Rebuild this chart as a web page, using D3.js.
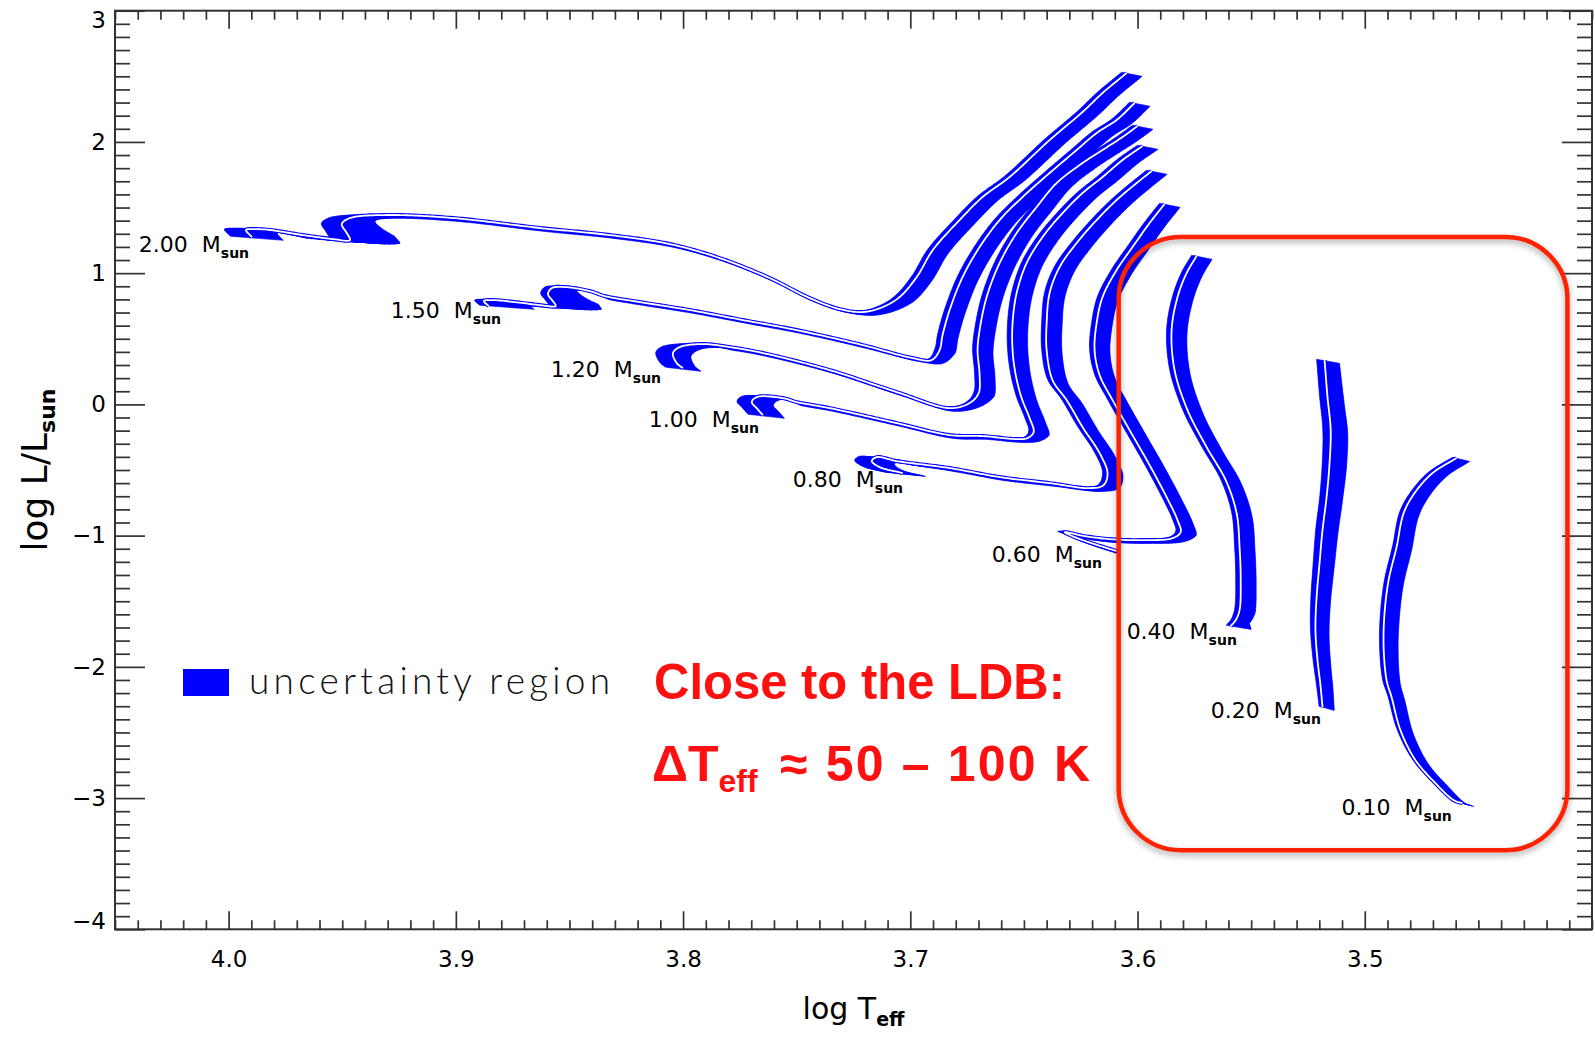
<!DOCTYPE html>
<html><head><meta charset="utf-8">
<script src="https://cdn.jsdelivr.net/npm/d3@7"></script>
<style>body{margin:0;background:#fff} svg{display:block}</style>
</head><body>
<svg id="c" width="1595" height="1038"></svg>
<script>
// ---------------- data ----------------
const xMajor = [4.0, 3.9, 3.8, 3.7, 3.6, 3.5];
const yMajor = [3, 2, 1, 0, -1, -2, -3, -4];
const xDomain = [4.05, 3.40];
const yDomain = [-4, 3];

// track points: [log Teff, log L, hot-side width (dex), cool-side width (dex)]
// points with only two numbers use the track's default widths
const track200 = [
 [3.6048,2.525],[3.6154,2.373],[3.6242,2.228],[3.6387,2.014],[3.6563,1.733],[3.6682,1.580],
 [3.6783,1.405],[3.6901,1.176],[3.6972,0.970],[3.7047,0.818],[3.7121,0.742,.0020,.0060],
 [3.7209,0.704,.0016,.0050],[3.7311,0.726,.0012,.0030],[3.7443,0.810,.0008,.0016],
 [3.7619,0.963,.0008,.0016],[3.7839,1.115,.0008,.0016],[3.8059,1.222,.0008,.0016],
 [3.8322,1.290,.0008,.0016],[3.8630,1.344,.0008,.0016],[3.9013,1.420,.0008,.0016],
 [3.9303,1.443,.0012,.0025],[3.9466,1.420,.0085,.0110],[3.9502,1.374,.0090,.0170],
 [3.9480,1.306,.0090,.0210],[3.9466,1.252,.0090,.0220],[3.9541,1.260,.0060,.0120],
 [3.9673,1.290,.0010,.0020],[3.9818,1.329,.0030,.0060],[3.9893,1.336,.0090,.0130],
 [3.9924,1.329,.0095,.0138],[3.9897,1.275,.0095,.0138]
];
const track150 = [
 [3.6013,2.2965],[3.6092,2.1669],[3.6180,2.0678],[3.6268,1.9383],[3.6387,1.7630],[3.6506,1.5800],
 [3.6607,1.4047],[3.6695,1.1989],[3.6770,0.9703],[3.6827,0.7188],[3.6858,0.5282],[3.6871,0.4139],
 [3.6906,0.3377,.0016,.0050],[3.6990,0.3529,.0010,.0025],[3.7210,0.4520,.0008,.0016],
 [3.7500,0.5663,.0008,.0016],[3.7737,0.6425,.0008,.0016],[3.7971,0.7188,.0008,.0016],
 [3.8191,0.7797,.0008,.0016],[3.8345,0.8255,.0008,.0016],[3.8411,0.8636,.0020,.0050],
 [3.8521,0.8941,.0032,.0080],[3.8578,0.8864,.0032,.0110],[3.8595,0.8407,.0032,.0160],
 [3.8573,0.7873,.0032,.0200],[3.8560,0.7492,.0032,.0200],[3.8631,0.7569,.0030,.0100],
 [3.8741,0.7797,.0010,.0020],[3.8842,0.7950,.0040,.0190],[3.8877,0.7873,.0040,.0200],
 [3.8855,0.7492,.0040,.0200]
];
const track120 = [
 [3.6000,2.1212],[3.6066,2.0373],[3.6154,1.9383],[3.6242,1.8392],[3.6356,1.6867],[3.6444,1.5038],
 [3.6532,1.3056],[3.6607,1.0770],[3.6664,0.8178],[3.6695,0.5663],[3.6704,0.4139],[3.6695,0.2233],
 [3.6699,0.0861],[3.6739,0.0099,.0016,.0050],[3.6827,-0.0282,.0010,.0025],
 [3.7060,0.0938,.0008,.0016],[3.7355,0.2614,.0008,.0016],[3.7649,0.3910,.0008,.0016],
 [3.7795,0.4367,.0008,.0016],[3.7913,0.4596,.0035,.0060],[3.8015,0.4367,.0075,.0080],
 [3.8045,0.3910,.0075,.0080],[3.8028,0.3148,.0075,.0080],[3.8001,0.2767,.0075,.0080]
];
const track100 = [
 [3.5978,1.9688],[3.6066,1.8620],[3.6154,1.7325],[3.6242,1.6105],[3.6330,1.4581],[3.6418,1.2752],
 [3.6488,1.0770],[3.6532,0.8483],[3.6550,0.6197],[3.6550,0.4139],[3.6536,0.2233],[3.6510,0.0480],
 [3.6475,-0.1044],[3.6457,-0.2111],[3.6484,-0.2569,.0016,.0050],[3.6532,-0.2645,.0010,.0025],
 [3.6682,-0.2416,.0008,.0016],[3.6827,-0.2340,.0008,.0016],[3.7060,-0.1425,.0008,.0016],
 [3.7355,-0.0282,.0008,.0016],[3.7500,0.0175,.0008,.0016],[3.7561,0.0480,.0040,.0060],
 [3.7676,0.0556,.0065,.0095],[3.7698,0.0175,.0065,.0095],[3.7676,-0.0282,.0065,.0095],
 [3.7649,-0.0816,.0065,.0095]
];
const track080 = [
 [3.5938,1.7782],[3.6004,1.6867],[3.6092,1.5572],[3.6180,1.4047],[3.6268,1.2294],[3.6343,1.0465],
 [3.6387,0.8483],[3.6400,0.6197],[3.6400,0.4139],[3.6374,0.1852],[3.6312,0.0328],[3.6242,-0.1730],
 [3.6167,-0.3712],[3.6132,-0.5236],[3.6149,-0.6151],[3.6211,-0.6380,.0016,.0050],
 [3.6387,-0.5999,.0010,.0025],[3.6607,-0.5541,.0008,.0016],[3.6827,-0.4855,.0008,.0016],
 [3.7060,-0.4322,.0040,.0060],[3.7148,-0.4017,.0075,.0100],[3.7170,-0.4322,.0075,.0100],
 [3.7135,-0.4779,.0075,.0100],[3.7033,-0.5236,.0075,.0100]
];
const track060 = [
 [3.5881,1.5267],[3.5947,1.3819],[3.6022,1.1989],[3.6092,1.0236],[3.6154,0.8178],[3.6180,0.6197],
 [3.6189,0.4139],[3.6167,0.2233],[3.6110,0.0328],[3.6035,-0.1959],[3.5947,-0.4627],[3.5872,-0.7066],
 [3.5824,-0.8819],[3.5810,-0.9733],[3.5846,-1.0191,.0018,.0055],[3.5991,-1.0343,.0010,.0030],
 [3.6123,-1.0267,.0008,.0016],[3.6233,-1.0038,.0008,.0016],[3.6321,-0.9733,.0030,.0040],
 [3.6277,-1.0114,.0012,.0020],[3.6189,-1.0648,.0008,.0016],[3.6092,-1.1182,.0008,.0016]
];
const track040 = [
 [3.5740,1.1303],[3.5784,1.0008],[3.5824,0.8178],[3.5850,0.5663],[3.5837,0.2614],[3.5780,-0.0435],
 [3.5696,-0.3255],[3.5612,-0.5770],[3.5564,-0.8285],[3.5551,-1.0877],[3.5546,-1.3392],
 [3.5551,-1.5678],[3.5568,-1.6441,.0020,.0060],[3.5590,-1.6898,.0020,.0090]
];
const track020 = [
 [3.5177,0.3377,.0035,.0066],[3.5164,0.0556,.0035,.0072],[3.5150,-0.1959,.0035,.0075],
 [3.5155,-0.4474,.0032,.0075],[3.5168,-0.7066,.0030,.0070],[3.5186,-0.9581,.0030,.0068],
 [3.5199,-1.2096,.0028,.0065],[3.5212,-1.4688,.0025,.0062],[3.5217,-1.7203,.0022,.0060],
 [3.5208,-1.9489,.0020,.0058],[3.5195,-2.1395,.0018,.0055],[3.5186,-2.3072,.0015,.0052]
];
const track010 = [
 [3.4596,-0.4093,.0018,.0058],[3.4702,-0.5236,.0018,.0062],[3.4781,-0.6761,.0018,.0064],
 [3.4829,-0.8285,.0018,.0066],[3.4860,-1.0877,.0018,.0066],[3.4895,-1.3392,.0018,.0066],
 [3.4913,-1.5907,.0018,.0066],[3.4917,-1.8499,.0018,.0064],[3.4904,-2.1014,.0018,.0060],
 [3.4882,-2.2310,.0016,.0058],[3.4843,-2.4825,.0015,.0056],[3.4777,-2.7111,.0013,.0055],
 [3.4689,-2.8864,.0012,.0055],[3.4609,-3.0160,.0010,.0052],[3.4570,-3.0389,.0010,.0050]
];
const trackDefaultWidth = [0.0022, 0.0068];
const trackVertical = [0.006, 0.025];   // hot side up, cool side down (dex in log L)

const massNames = ["2.00","1.50","1.20","1.00","0.80","0.60","0.40","0.20","0.10"];
const massLabelAt = [[4.0395,1.1608],[3.9286,0.6578],[3.8582,0.2081],[3.8151,-0.1730],
 [3.7517,-0.6303],[3.6642,-1.2020],[3.6048,-1.7889],[3.5678,-2.3910],[3.5102,-3.1303]];
const boxT = [3.6083, 3.4108];
const boxL = [1.2752, -3.3971];

// ---------------- drawing ----------------
const svg = d3.select("#c");
const x = d3.scaleLinear().domain(xDomain).range([115, 1592]);
const y = d3.scaleLinear().domain(yDomain).range([929.3, 10.7]);
const kx = Math.abs(x(1) - x(0)), ky = Math.abs(y(1) - y(0));
const axisCol = "#333";
const BLUE = "#0000ff";

const defs = svg.append("defs");
const f = defs.append("filter").attr("id","shadow").attr("x","-10%").attr("y","-10%").attr("width","120%").attr("height","120%");
f.append("feDropShadow").attr("dx",0).attr("dy",3).attr("stdDeviation",3).attr("flood-color","#000").attr("flood-opacity",0.35);

// smooth (centripetal Catmull-Rom) rendering of each track in pixel space
function smoothTrack(P){
  const n = P.length, out = [];
  const get = i => {
    if (i < 0) return [2*P[0][0]-P[1][0], 2*P[0][1]-P[1][1]];
    if (i >= n) return [2*P[n-1][0]-P[n-2][0], 2*P[n-1][1]-P[n-2][1]];
    return P[i];
  };
  const dist = (a,b) => Math.max(1e-4, Math.pow(Math.hypot(b[0]-a[0], b[1]-a[1]), 0.5));
  for (let i=0;i<n-1;i++){
    const p0=get(i-1), p1=get(i), p2=get(i+1), p3=get(i+2);
    const t0=0, t1=t0+dist(p0,p1), t2=t1+dist(p1,p2), t3=t2+dist(p2,p3);
    const segLen = Math.hypot(p2[0]-p1[0], p2[1]-p1[1]);
    const m = Math.max(2, Math.ceil(segLen/2.5));
    for (let k=0;k<m;k++){
      const u = k/m, t = t1 + (t2-t1)*u;
      const lerp=(a,b,ta,tb)=>[ (tb-t)/(tb-ta)*a[0]+(t-ta)/(tb-ta)*b[0], (tb-t)/(tb-ta)*a[1]+(t-ta)/(tb-ta)*b[1] ];
      const A1=lerp(p0,p1,t0,t1), A2=lerp(p1,p2,t1,t2), A3=lerp(p2,p3,t2,t3);
      const B1=lerp(A1,A2,t0,t2), B2=lerp(A2,A3,t1,t3);
      const C=lerp(B1,B2,t1,t2);
      out.push([C[0], C[1], P[i][2]*(1-u)+P[i+1][2]*u, P[i][3]*(1-u)+P[i+1][3]*u]);
    }
  }
  out.push(P[n-1].slice());
  return out;
}

const trackList = [track200, track150, track120, track100, track080, track060, track040, track020, track010];
const gT = svg.append("g");
const line = d3.line().x(d=>d[0]).y(d=>d[1]);
const vUp = trackVertical[0]*ky, vDn = trackVertical[1]*ky;
trackList.forEach(pts => {
  const P = pts.map(p => [x(p[0]), y(p[1]),
     (p.length>2?p[2]:trackDefaultWidth[0])*kx, (p.length>2?p[3]:trackDefaultWidth[1])*kx]);
  const S = smoothTrack(P);
  let d = "";
  for (let i=0;i<S.length-1;i++){
    const a=S[i], b=S[i+1];
    let q = [[a[0]-a[2], a[1]-vUp],[a[0]+a[3], a[1]+vDn],[b[0]+b[3], b[1]+vDn],[b[0]-b[2], b[1]-vUp]];
    let area = 0;
    for (let j=0;j<4;j++){ const c=q[j], e=q[(j+1)%4]; area += c[0]*e[1]-e[0]*c[1]; }
    if (area < 0) q = q.reverse();
    d += "M"+q.map(c=>c[0].toFixed(2)+","+c[1].toFixed(2)).join("L")+"Z";
  }
  const g = gT.append("g");
  g.append("path").attr("d",d).attr("fill",BLUE).attr("stroke",BLUE).attr("stroke-width",0.6)
    .attr("stroke-linejoin","round").attr("fill-rule","nonzero");
  g.append("path").attr("d",line(S)).attr("fill","none").attr("stroke",BLUE).attr("stroke-width",4);
  g.append("path").attr("d",line(S)).attr("fill","none").attr("stroke","#fff").attr("stroke-width",1.8)
    .attr("stroke-linejoin","round");
});

// axes
const near = (a,b)=>Math.abs(a-b)<1e-6;
const xMinor = d3.range(405, 339, -1).map(v=>v/100).filter(v=>!xMajor.some(m=>near(m,v)));
const yMinor = d3.range(-40, 31).map(v=>v/10).filter(v=>!yMajor.some(m=>near(m,v)));
const fmtY = d => d<0 ? "\u2212"+(-d) : String(d);
function styleAxis(g){
  g.select(".domain").remove();
  g.selectAll("line").attr("stroke",axisCol).attr("stroke-width",1.7);
  g.selectAll("text").attr("fill","#000");
  g.attr("font-family","DejaVu Sans, sans-serif").attr("font-size",23);
}
svg.append("g").attr("transform",`translate(0,${y(-4)})`)
  .call(d3.axisBottom(x).tickValues(xMajor).tickSize(-18).tickPadding(21).tickFormat(d3.format(".1f"))).call(styleAxis);
svg.append("g").attr("transform",`translate(0,${y(-4)})`)
  .call(d3.axisBottom(x).tickValues(xMinor).tickSize(-9).tickFormat("")).call(styleAxis);
svg.append("g").attr("transform",`translate(0,${y(3)})`)
  .call(d3.axisTop(x).tickValues(xMajor).tickSize(-18).tickFormat("")).call(styleAxis);
svg.append("g").attr("transform",`translate(0,${y(3)})`)
  .call(d3.axisTop(x).tickValues(xMinor).tickSize(-9).tickFormat("")).call(styleAxis);
const gl = svg.append("g").attr("transform",`translate(${x(4.05)},0)`)
  .call(d3.axisLeft(y).tickValues(yMajor).tickSize(-30).tickPadding(9).tickFormat(fmtY)).call(styleAxis);
gl.selectAll("text").filter(d=>d===3).attr("transform","translate(0,9)");
gl.selectAll("text").filter(d=>d===-4).attr("transform","translate(0,-8)");
svg.append("g").attr("transform",`translate(${x(4.05)},0)`)
  .call(d3.axisLeft(y).tickValues(yMinor).tickSize(-15).tickFormat("")).call(styleAxis);
svg.append("g").attr("transform",`translate(${x(3.40)},0)`)
  .call(d3.axisRight(y).tickValues(yMajor).tickSize(-30).tickFormat("")).call(styleAxis);
svg.append("g").attr("transform",`translate(${x(3.40)},0)`)
  .call(d3.axisRight(y).tickValues(yMinor).tickSize(-15).tickFormat("")).call(styleAxis);
svg.append("rect").attr("x",x(4.05)).attr("y",y(3)).attr("width",x(3.40)-x(4.05)).attr("height",y(-4)-y(3))
  .attr("fill","none").attr("stroke",axisCol).attr("stroke-width",2);

// axis titles
const xt = svg.append("text").attr("x",(x(4.05)+x(3.40))/2).attr("y",1019).attr("text-anchor","middle")
  .attr("font-family","DejaVu Sans, sans-serif").attr("font-size",30).attr("fill","#000");
xt.append("tspan").text("log T");
xt.append("tspan").attr("font-size",19).attr("font-weight","bold").attr("dy",7).text("eff");
const yt = svg.append("text").attr("transform",`translate(47,${(y(3)+y(-4))/2}) rotate(-90)`).attr("text-anchor","middle")
  .attr("font-family","DejaVu Sans, sans-serif").attr("font-size",36).attr("fill","#000");
yt.append("tspan").text("log L/L");
yt.append("tspan").attr("font-size",22).attr("font-weight","bold").attr("dy",8).text("sun");

// mass labels
massNames.forEach((m,i)=>{
  const t = svg.append("text").attr("x",x(massLabelAt[i][0])).attr("y",y(massLabelAt[i][1]))
    .attr("font-family","DejaVu Sans, sans-serif").attr("font-size",22).attr("fill","#000");
  t.append("tspan").text(m);
  t.append("tspan").attr("dx",14).text("M");
  t.append("tspan").attr("font-size",14).attr("font-weight","bold").attr("dy",6).text("sun");
});

// legend
svg.append("rect").attr("x",183).attr("y",669).attr("width",46).attr("height",27).attr("fill",BLUE);
svg.append("text").attr("x",249).attr("y",694).attr("font-family","Lato, sans-serif").attr("font-weight",300)
  .attr("font-size",37).attr("fill","#111").attr("textLength",361).attr("lengthAdjust","spacing").text("uncertainty region");

// red box
svg.append("rect").attr("x",x(boxT[0])).attr("y",y(boxL[0])).attr("width",x(boxT[1])-x(boxT[0])).attr("height",y(boxL[1])-y(boxL[0]))
  .attr("rx",62).attr("ry",62).attr("fill","none").attr("stroke","#ff2200").attr("stroke-width",4.5).attr("filter","url(#shadow)");

// red annotation
const RED = "#ff1010";
const redFont = "Liberation Sans, Arial, sans-serif";
svg.append("text").attr("x",654).attr("y",699).attr("font-family",redFont).attr("font-weight","bold")
  .attr("font-size",50).attr("fill",RED).attr("textLength",411).attr("lengthAdjust","spacingAndGlyphs").text("Close to the LDB:");
const t2 = svg.append("text").attr("x",652).attr("y",781).attr("font-family",redFont).attr("font-weight","bold")
  .attr("font-size",50).attr("fill",RED);
t2.append("tspan").text("\u0394T");
t2.append("tspan").attr("font-size",32).attr("dy",11).text("eff");
svg.append("text").attr("x",780).attr("y",781).attr("font-family",redFont).attr("font-weight","bold")
  .attr("font-size",50).attr("fill",RED).attr("textLength",310).attr("lengthAdjust","spacing").text("\u2248 50 \u2013 100 K");
</script>
</body></html>
